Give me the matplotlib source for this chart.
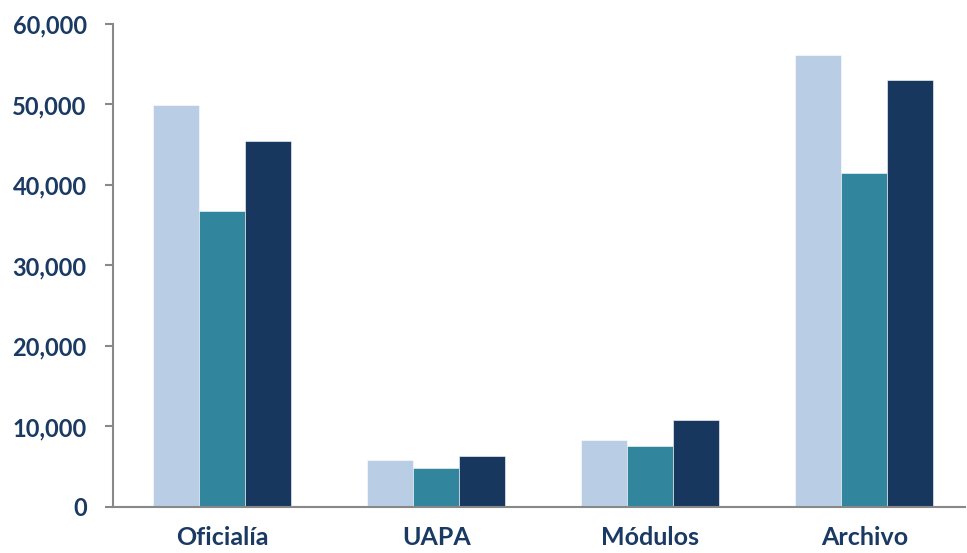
import matplotlib
matplotlib.use("Agg")
import matplotlib.pyplot as plt
import numpy as np
from matplotlib.ticker import FuncFormatter

categories = ["Oficialía", "UAPA", "Módulos", "Archivo"]
series_a = [49900, 5840, 8320, 56100]
series_b = [36800, 4840, 7580, 41450]
series_c = [45500, 6340, 10770, 53100]
yticks = [0, 10000, 20000, 30000, 40000, 50000, 60000]

colors = ["#b9cde5", "#31859c", "#17375e"]
text_color = "#1a3a63"

plt.rcParams['font.family'] = ['Lato', 'DejaVu Sans']

fig = plt.figure(figsize=(9.67, 5.53), dpi=100)
ax = fig.add_axes([0.1169, 0.0832, 0.8811, 0.8734])

x = np.arange(len(categories))
w = 0.215
for i, (vals, c) in enumerate(zip([series_a, series_b, series_c], colors)):
    ax.bar(x + (i - 1) * w, vals, width=w, color=c, edgecolor="white", linewidth=0.4)

ax.set_xlim(-0.51, 3.47)
ax.set_ylim(0, 60000)
ax.set_yticks(yticks)
ax.yaxis.set_major_formatter(FuncFormatter(lambda v, p: f"{int(v):,}"))
ax.set_xticks(x)
ax.set_xticklabels(categories)

for s in ["top", "right"]:
    ax.spines[s].set_visible(False)
for s in ["left", "bottom"]:
    ax.spines[s].set_color("#888888")
    ax.spines[s].set_linewidth(1.5)

ax.tick_params(axis="y", length=6, width=1.5, color="#888888", pad=13,
               labelsize=17, labelcolor=text_color)
ax.tick_params(axis="x", length=0, pad=14, labelsize=18, labelcolor=text_color)
for lab in ax.get_xticklabels() + ax.get_yticklabels():
    lab.set_fontweight("bold")

fig.savefig("out.png", dpi=100)
